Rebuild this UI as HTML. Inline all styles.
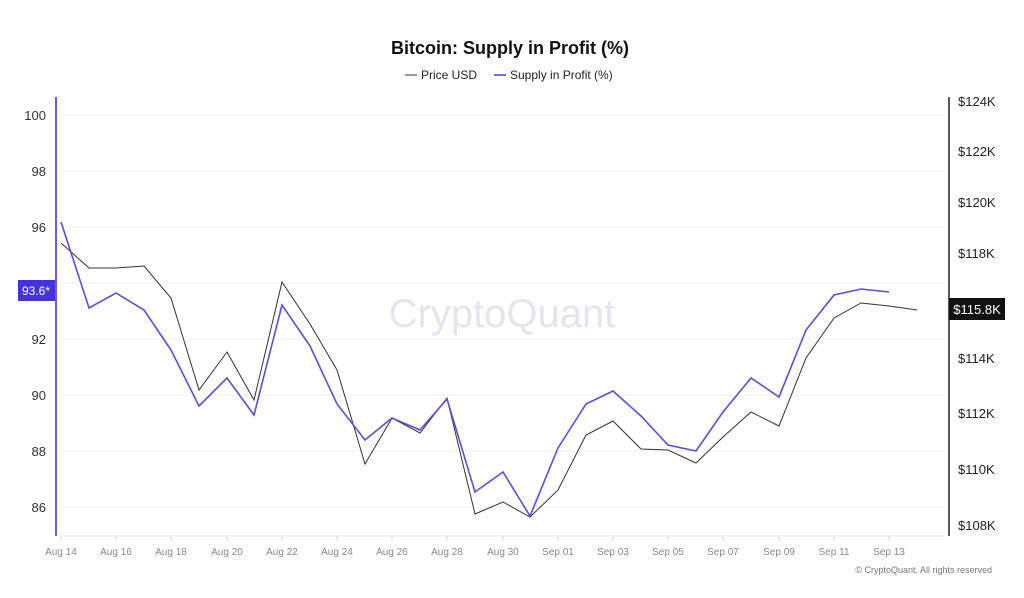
<!DOCTYPE html>
<html><head><meta charset="utf-8"><style>
html,body{margin:0;padding:0;background:#fff;}
body{width:1024px;height:593px;overflow:hidden;font-family:"Liberation Sans",sans-serif;}
</style></head><body>
<svg width="1024" height="593" xmlns="http://www.w3.org/2000/svg" font-family="Liberation Sans, sans-serif">
<rect width="1024" height="593" fill="#fff"/>
<text x="510" y="54" text-anchor="middle" font-size="18" font-weight="bold" fill="#111">Bitcoin: Supply in Profit (%)</text>
<line x1="405" y1="75" x2="417" y2="75" stroke="#333" stroke-width="1"/>
<text x="421" y="79" font-size="12" fill="#222">Price USD</text>
<line x1="494" y1="75" x2="506" y2="75" stroke="#4a3fd0" stroke-width="1.5"/>
<text x="510" y="79" font-size="12" fill="#222">Supply in Profit (%)</text>
<g stroke="#f2f2f2" stroke-width="1">
<line x1="60" y1="115" x2="945" y2="115"/><line x1="60" y1="171" x2="945" y2="171"/><line x1="60" y1="227" x2="945" y2="227"/><line x1="60" y1="283" x2="945" y2="283"/><line x1="60" y1="339" x2="945" y2="339"/><line x1="60" y1="395" x2="945" y2="395"/><line x1="60" y1="451" x2="945" y2="451"/><line x1="60" y1="507" x2="945" y2="507"/>
</g>
<line x1="60" y1="536" x2="945" y2="536" stroke="#e4e4e4"/>
<line x1="56" y1="97" x2="56" y2="536" stroke="#6a5fd8" stroke-width="2"/>
<line x1="949" y1="97" x2="949" y2="536" stroke="#222" stroke-width="1.5"/>
<g font-size="13" fill="#333" text-anchor="end">
<text x="46" y="120">100</text><text x="46" y="176">98</text><text x="46" y="232">96</text><text x="46" y="344">92</text><text x="46" y="400">90</text><text x="46" y="456">88</text><text x="46" y="512">86</text>
</g>
<rect x="18" y="280" width="37" height="21" fill="#4433dd"/>
<text x="36" y="295" font-size="12" fill="#fff" text-anchor="middle">93.6*</text>
<g font-size="13" fill="#222">
<text x="958" y="106">$124K</text><text x="958" y="156">$122K</text><text x="958" y="207">$120K</text><text x="958" y="258">$118K</text><text x="958" y="363">$114K</text><text x="958" y="418">$112K</text><text x="958" y="474">$110K</text><text x="958" y="530">$108K</text>
</g>
<rect x="949" y="298" width="56" height="22" fill="#111"/>
<text x="977" y="314" font-size="13" fill="#fff" text-anchor="middle">$115.8K</text>
<text x="502" y="327" font-size="40" fill="#e6e4ee" text-anchor="middle">CryptoQuant</text>
<g font-size="10" fill="#888" text-anchor="middle">
<text x="61" y="555">Aug 14</text><text x="116" y="555">Aug 16</text><text x="171" y="555">Aug 18</text><text x="227" y="555">Aug 20</text><text x="282" y="555">Aug 22</text><text x="337" y="555">Aug 24</text><text x="392" y="555">Aug 26</text><text x="447" y="555">Aug 28</text><text x="503" y="555">Aug 30</text><text x="558" y="555">Sep 01</text><text x="613" y="555">Sep 03</text><text x="668" y="555">Sep 05</text><text x="723" y="555">Sep 07</text><text x="779" y="555">Sep 09</text><text x="834" y="555">Sep 11</text><text x="889" y="555">Sep 13</text>
</g>
<g stroke="#ddd"><line x1="61" y1="536" x2="61" y2="541"/><line x1="116" y1="536" x2="116" y2="541"/><line x1="171" y1="536" x2="171" y2="541"/><line x1="227" y1="536" x2="227" y2="541"/><line x1="282" y1="536" x2="282" y2="541"/><line x1="337" y1="536" x2="337" y2="541"/><line x1="392" y1="536" x2="392" y2="541"/><line x1="447" y1="536" x2="447" y2="541"/><line x1="503" y1="536" x2="503" y2="541"/><line x1="558" y1="536" x2="558" y2="541"/><line x1="613" y1="536" x2="613" y2="541"/><line x1="668" y1="536" x2="668" y2="541"/><line x1="723" y1="536" x2="723" y2="541"/><line x1="779" y1="536" x2="779" y2="541"/><line x1="834" y1="536" x2="834" y2="541"/><line x1="889" y1="536" x2="889" y2="541"/></g>
<text x="992" y="573" font-size="9" fill="#777" text-anchor="end">© CryptoQuant. All rights reserved</text>
<polyline fill="none" stroke="#333" stroke-width="1" points="61,243 89,268 116,268 144,266 171,298 199,390 227,352 254,400 282,282 310,324 337,370 365,464 392,418 420,433 447,398 475,514 503,502 530,517 558,490 586,435 613,421 641,449 668,450 696,463 723,437 751,412 779,426 806,358 834,318 861,303 889,306 917,310"/>
<polyline fill="none" stroke="#5a4fd6" stroke-width="1.6" points="61,222 89,308 116,293 144,310 171,350 199,406 227,378 254,415 282,305 310,346 337,404 365,440 392,418 420,430 447,399 475,492 503,472 530,516 558,448 586,404 613,391 641,416 668,445 696,451 723,412 751,378 779,397 806,330 834,295 861,289 889,292"/>
</svg>
</body></html>
